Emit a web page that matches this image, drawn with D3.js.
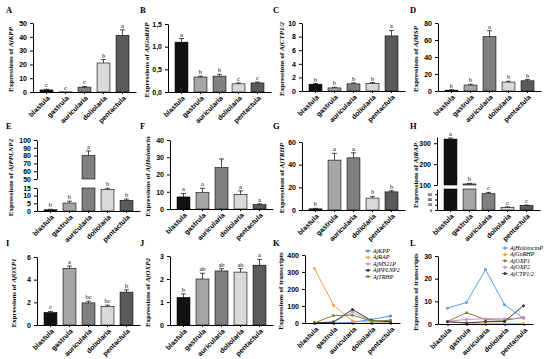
<!DOCTYPE html>
<html>
<head>
<meta charset="utf-8">
<script src="https://cdn.jsdelivr.net/npm/d3@7"></script>
<style>
  body { margin: 0; background: #fff; }
  svg { display: block; font-family: "Liberation Serif", "DejaVu Serif", serif; }
  .tick text { font-size: 7px; font-weight: bold; }
  .ttl { font-size: 7px; font-weight: bold; }
  .sig { font-size: 6.5px; }
  .plab { font-size: 8.5px; font-weight: bold; }
  .leg { font-size: 6px; font-style: italic; }
</style>
</head>
<body>
<svg id="fig" width="550" height="359"></svg>
<script>
const svg = d3.select("#fig");

// categories (developmental stages)
const stages = ["blastula", "gastrula", "auricularia", "doliolaria", "pentactula"];
const barColors = ["#111111", "#a6a6a6", "#808080", "#d9d9d9", "#5a5a5a"];

// A  AjKPP
const kppMean = [1.5, 0.1, 3.5, 21, 41];
const kppErr  = [0.5, 0, 0.5, 2.5, 4];
const kppSig  = ["c", "c", "c", "b", "a"];
// B  AjGnRHP
const gnrhMean = [1.1, 0.33, 0.35, 0.18, 0.2];
const gnrhErr  = [0.08, 0.02, 0.04, 0.02, 0.02];
const gnrhSig  = ["a", "b", "b", "c", "c"];
// C  AjCTP1/2
const ctpMean = [1.0, 0.45, 1.05, 1.1, 8.1];
const ctpErr  = [0.1, 0.1, 0.15, 0.15, 0.8];
const ctpSig  = ["b", "b", "b", "b", "a"];
// D  AjMSP
const mspMean = [1, 7, 64, 10.5, 12];
const mspErr  = [0.5, 1, 7, 1, 1.5];
const mspSig  = ["b", "b", "a", "b", "b"];
// E  AjPPLNP2 (broken axis)
const pplnMean = [0.8, 5.2, 80, 14, 7];
const pplnErr  = [0.3, 1.2, 6, 0.8, 0.8];
const pplnSig  = ["b", "b", "a", "b", "b"];
// F  AjHolotocin
const holoMean = [7, 9.5, 24, 8.5, 2.5];
const holoErr  = [2, 2.5, 5, 2, 0.5];
const holoSig  = ["a", "a", "", "a", "a"];
// G  AjTRHP
const trhMean = [1, 44, 46, 10.5, 16];
const trhErr  = [0.5, 6, 4.5, 1.5, 1];
const trhSig  = ["b", "a", "a", "b", "b"];
// H  AjRAP (broken axis)
const rapMean = [320, 105, 62, 10, 17];
const rapErr  = [5, 3, 5, 2, 2];
const rapSig  = ["a", "b", "c", "c", "c"];
// I  AjOXP1
const oxp1Mean = [1.1, 5.0, 1.95, 1.65, 2.9];
const oxp1Err  = [0.1, 0.2, 0.15, 0.1, 0.2];
const oxp1Sig  = ["c", "a", "bc", "bc", "b"];
// J  AjOXP2
const oxp2Mean = [1.2, 2.0, 2.35, 2.3, 2.6];
const oxp2Err  = [0.15, 0.25, 0.1, 0.15, 0.25];
const oxp2Sig  = ["b", "ab", "ab", "ab", "a"];
// K line chart (RAP as plotted in K)
const rapLine = [320, 105, 12, 5, 5];

const comma = d => d3.format(".1f")(d).replace(".", ",");

function addTitle(x, yc, gene) {
  const t = svg.append("text").attr("class", "ttl")
    .attr("transform", `translate(${x},${yc}) rotate(-90)`)
    .attr("text-anchor", "middle");
  t.append("tspan").text(gene ? "Expressions of " : "Expressions of transcripts");
  if (gene) t.append("tspan").attr("font-style", "italic").text(gene);
}

function xAxis(g, x, y1) {
  const ax = g.append("g").attr("transform", `translate(0,${y1})`)
    .call(d3.axisBottom(x).tickSize(2).tickSizeOuter(0));
  ax.selectAll("text")
    .attr("x", 0).attr("y", 0).attr("dy", "0.35em")
    .attr("transform", "translate(2,5) rotate(-45)")
    .style("text-anchor", "end");
  ax.select(".domain").attr("stroke-width", 1);
}

function barPanel(p) {
  const g = svg.append("g");
  const x = d3.scaleBand().domain(stages).range([p.x0, p.x0 + 103])
    .paddingInner(0.32).paddingOuter(0.37);
  const segs = p.segs.map(s => Object.assign({}, s,
    { scale: d3.scaleLinear().domain(s.domain).range(s.range) }));

  p.mean.forEach((v, i) => {
    segs.forEach(s => {
      const lo = s.domain[0], hi = s.domain[1];
      if (v <= lo) return;
      const top = Math.min(v, hi);
      g.append("rect")
        .attr("x", x(stages[i])).attr("width", x.bandwidth())
        .attr("y", s.scale(top)).attr("height", s.scale(lo) - s.scale(top))
        .attr("fill", barColors[i]).attr("stroke", "#000").attr("stroke-width", 0.6);
    });
    const s = segs.filter(s => v > s.domain[0] || s === segs[0]).pop();
    const cx = x(stages[i]) + x.bandwidth() / 2;
    const yv = s.scale(v), ye = s.scale(v + p.err[i]);
    if (p.err[i] > 0) {
      g.append("line").attr("x1", cx).attr("x2", cx).attr("y1", yv).attr("y2", ye)
        .attr("stroke", "#000").attr("stroke-width", 0.7);
      g.append("line").attr("x1", cx - 2.5).attr("x2", cx + 2.5).attr("y1", ye).attr("y2", ye)
        .attr("stroke", "#000").attr("stroke-width", 0.7);
    }
    if (p.sig[i]) {
      g.append("text").attr("class", "sig").attr("x", cx).attr("y", ye - 2)
        .attr("text-anchor", "middle").text(p.sig[i]);
    }
  });

  segs.forEach(s => {
    g.append("g").attr("transform", `translate(${p.x0},0)`)
      .call(d3.axisLeft(s.scale).tickValues(s.ticks).tickSize(s.small ? 2 : 3)
        .tickSizeOuter(0).tickFormat(s.fmt || p.fmt || d3.format("d")))
      .call(a => a.select(".domain").attr("stroke-width", 1))
      .call(a => { if (s.small) a.selectAll("text").style("font-size", "3.5px"); });
  });
  xAxis(g, x, p.y1);
  addTitle(p.tx, (p.y0 + p.y1) / 2 + 2, p.gene);
}

function linePanel(p) {
  const g = svg.append("g");
  const x = d3.scalePoint().domain(stages).range([p.x0, p.x0 + 95]).padding(0.5);
  const y = d3.scaleLinear().domain(p.domain).range([p.y1, p.y0]);
  const line = d3.line().x((d, i) => x(stages[i])).y(d => y(d));
  p.series.forEach(s => {
    g.append("path").datum(s.values).attr("d", line)
      .attr("fill", "none").attr("stroke", s.color).attr("stroke-width", 1);
    g.selectAll(null).data(s.values).enter().append("circle")
      .attr("cx", (d, i) => x(stages[i])).attr("cy", d => y(d)).attr("r", 1.5)
      .attr("fill", s.color);
  });
  g.append("g").attr("transform", `translate(${p.x0},0)`)
    .call(d3.axisLeft(y).tickValues(p.ticks).tickSize(3).tickSizeOuter(0).tickFormat(d3.format("d")))
    .call(a => a.select(".domain").attr("stroke-width", 1));
  xAxis(g, x, p.y1);
  p.series.forEach((s, i) => {
    const ly = p.ly + i * 6.4;
    g.append("line").attr("x1", p.lx - 3).attr("x2", p.lx + 3).attr("y1", ly).attr("y2", ly)
      .attr("stroke", s.color).attr("stroke-width", 0.8);
    g.append("circle").attr("cx", p.lx).attr("cy", ly).attr("r", 1.5).attr("fill", s.color);
    g.append("text").attr("class", "leg").attr("x", p.lx + 5).attr("y", ly + 2).text(s.name);
  });
  addTitle(p.tx, (p.y0 + p.y1) / 2 + 2, null);
}

// Row 1
barPanel({ x0: 33, y0: 23, y1: 92, tx: 13, gene: "AjKPP", mean: kppMean, err: kppErr, sig: kppSig,
  segs: [{ domain: [0, 50], range: [92, 23], ticks: [0, 10, 20, 30, 40, 50] }] });
barPanel({ x0: 168, y0: 24, y1: 92, tx: 149, gene: "AjGnRHP", mean: gnrhMean, err: gnrhErr, sig: gnrhSig,
  fmt: comma, segs: [{ domain: [0, 1.5], range: [92, 24], ticks: [0, 0.5, 1, 1.5] }] });
barPanel({ x0: 302, y0: 23, y1: 91, tx: 284, gene: "AjCTP1/2", mean: ctpMean, err: ctpErr, sig: ctpSig,
  segs: [{ domain: [0, 10], range: [91, 23], ticks: [0, 2, 4, 6, 8, 10] }] });
barPanel({ x0: 438, y0: 23, y1: 91, tx: 418, gene: "AjMSP", mean: mspMean, err: mspErr, sig: mspSig,
  segs: [{ domain: [0, 80], range: [91, 23], ticks: [0, 20, 40, 60, 80] }] });

// Row 2
barPanel({ x0: 37, y0: 140, y1: 211, tx: 13, gene: "AjPPLNP2", mean: pplnMean, err: pplnErr, sig: pplnSig,
  segs: [{ domain: [0, 15], range: [211, 188], ticks: [0, 5, 10, 15] },
         { domain: [50, 100], range: [179, 140], ticks: [50, 60, 70, 80, 90, 100] }] });
barPanel({ x0: 170, y0: 140, y1: 209, tx: 150, gene: "AjHolotocin", mean: holoMean, err: holoErr, sig: holoSig,
  segs: [{ domain: [0, 40], range: [209, 140], ticks: [0, 10, 20, 30, 40] }] });
barPanel({ x0: 302, y0: 142, y1: 210, tx: 284, gene: "AjTRHP", mean: trhMean, err: trhErr, sig: trhSig,
  segs: [{ domain: [0, 60], range: [210, 142], ticks: [0, 20, 40, 60] }] });
barPanel({ x0: 437, y0: 137, y1: 210, tx: 418, gene: "AjRAP", mean: rapMean, err: rapErr, sig: rapSig,
  segs: [{ domain: [0, 80], range: [210, 189], ticks: [0, 20, 40, 60], small: true },
         { domain: [100, 330], range: [185, 137], ticks: [100, 200, 300] }] });

// Row 3
barPanel({ x0: 37, y0: 257, y1: 325, tx: 16, gene: "AjOXP1", mean: oxp1Mean, err: oxp1Err, sig: oxp1Sig,
  segs: [{ domain: [0, 6], range: [325, 257], ticks: [0, 2, 4, 6] }] });
barPanel({ x0: 170, y0: 256, y1: 325, tx: 150, gene: "AjOXP2", mean: oxp2Mean, err: oxp2Err, sig: oxp2Sig,
  segs: [{ domain: [0, 3], range: [325, 256], ticks: [0, 1, 2, 3] }] });

linePanel({ x0: 305, y0: 255, y1: 323, tx: 283, domain: [0, 400], ticks: [0, 100, 200, 300, 400],
  lx: 368, ly: 251,
  series: [
    { name: "AjKPP", color: "#4a90e2", values: kppMean },
    { name: "AjRAP", color: "#f5a03c", values: rapLine },
    { name: "AjMS21P", color: "#c98fd0", values: mspMean },
    { name: "AjPPLNP2", color: "#3a3a3a", values: pplnMean },
    { name: "AjTRHP", color: "#6e8b2e", values: trhMean }
  ] });
linePanel({ x0: 438, y0: 256, y1: 324, tx: 418, domain: [0, 30], ticks: [0, 10, 20, 30],
  lx: 505, ly: 248,
  series: [
    { name: "AjHolotocinP", color: "#5b9ee6", values: holoMean },
    { name: "AjGnRHP", color: "#f5a03c", values: gnrhMean },
    { name: "AjOXP1", color: "#8a7a35", values: oxp1Mean },
    { name: "AjOXP2", color: "#c98fd0", values: oxp2Mean },
    { name: "AjCTP1/2", color: "#3a3a3a", values: ctpMean }
  ] });

// panel letters
const letters = ["A", "B", "C", "D", "E", "F", "G", "H", "I", "J", "K", "L"];
const letterX = [6, 140, 273, 410];
const letterY = [13, 129, 246];
letters.forEach((l, i) => {
  svg.append("text").attr("class", "plab")
    .attr("x", letterX[i % 4]).attr("y", letterY[Math.floor(i / 4)]).text(l);
});
</script>
</body>
</html>
